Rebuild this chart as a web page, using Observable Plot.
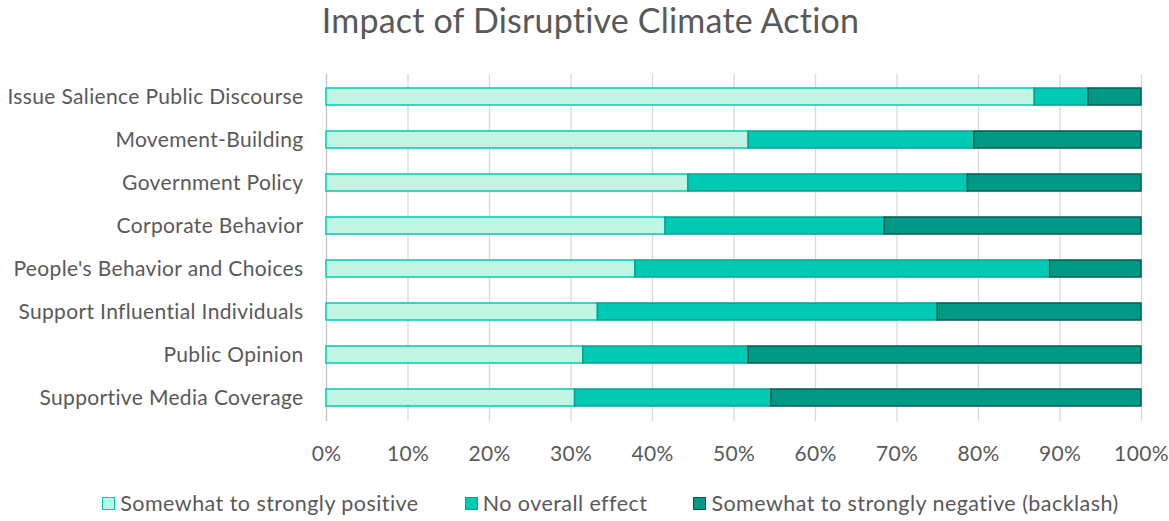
<!DOCTYPE html>
<html>
<head>
<meta charset="utf-8">
<script src="https://cdn.jsdelivr.net/npm/d3@7"></script>
<script src="https://cdn.jsdelivr.net/npm/@observablehq/plot@0.6"></script>
<style>
  body { margin: 0; background: #fff; font-family: Lato, "Open Sans", sans-serif; color: #595959; }
  #wrap { width: 1169px; height: 521px; position: relative; overflow: hidden; }
  #title { height: 54px; line-height: 40px; text-align: center; font-size: 34px; letter-spacing: 0.2px; padding-left: 12px; box-sizing: border-box; }
  #chart svg { display: block; }
  #legend { height: 38px; display: flex; justify-content: center; align-items: center; font-size: 21.5px; letter-spacing: 0.45px; padding-left: 52px; box-sizing: border-box; }
  .item { display: flex; align-items: center; margin: 0 23px; }
  .sw { width: 11px; height: 11px; margin-right: 5px; border: 1.5px solid; }
</style>
</head>
<body>
<div id="wrap">
  <div id="title">Impact of Disruptive Climate Action</div>
  <div id="chart"></div>
  <div id="legend"></div>
</div>
<script>
const categories = [
  "Issue Salience Public Discourse",
  "Movement-Building",
  "Government Policy",
  "Corporate Behavior",
  "People's Behavior and Choices",
  "Support Influential Individuals",
  "Public Opinion",
  "Supportive Media Coverage"
];
const seriesNames = [
  "Somewhat to strongly positive",
  "No overall effect",
  "Somewhat to strongly negative (backlash)"
];
const positive = [86.9, 51.8, 44.4, 41.6, 37.9, 33.3, 31.5, 30.5];
const neutral  = [6.6, 27.7, 34.3, 26.9, 50.9, 41.7, 20.3, 24.1];
const negative = [6.5, 20.5, 21.3, 31.5, 11.2, 25.0, 48.2, 45.4];
const xTicks = [0, 10, 20, 30, 40, 50, 60, 70, 80, 90, 100];

const fills = ["#c0f5e3", "#00c9b4", "#009986"];
const strokes = ["#00c9b4", "#00a38f", "#005c50"];

const seriesValues = [positive, neutral, negative];
const data = [];
categories.forEach((c, i) => {
  seriesNames.forEach((s, j) => {
    data.push({category: c, series: s, si: j, value: seriesValues[j][i]});
  });
});

const chart = Plot.plot({
  width: 1169,
  height: 430,
  marginLeft: 326,
  marginRight: 28,
  marginTop: 20,
  marginBottom: 63,
  style: {fontFamily: "Lato, 'Open Sans', sans-serif", fontSize: "21px", letterSpacing: "0.35px", color: "#595959", background: "#fff"},
  x: {domain: [0, 100], ticks: xTicks, tickFormat: d => d + "%", tickSize: 0, tickPadding: 25, label: null},
  y: {domain: categories, paddingInner: 0.6, paddingOuter: 0.3, tickSize: 0, tickPadding: 23, label: null},
  color: {type: "identity"},
  marks: [
    Plot.ruleX(xTicks, {stroke: d => d === 0 ? "#c4c4c4" : "#d9d9d9", strokeWidth: 1.3}),
    Plot.barX(data, Plot.stackX({
      x: "value",
      y: "category",
      fill: d => fills[d.si],
      stroke: d => strokes[d.si],
      strokeWidth: 1.5
    }))
  ]
});
document.getElementById("chart").appendChild(chart);

const legend = document.getElementById("legend");
seriesNames.forEach((s, j) => {
  const it = document.createElement("div");
  it.className = "item";
  const sw = document.createElement("span");
  sw.className = "sw";
  sw.style.background = fills[j];
  sw.style.borderColor = strokes[j];
  const t = document.createElement("span");
  t.textContent = s;
  it.appendChild(sw);
  it.appendChild(t);
  legend.appendChild(it);
});
</script>
</body>
</html>
